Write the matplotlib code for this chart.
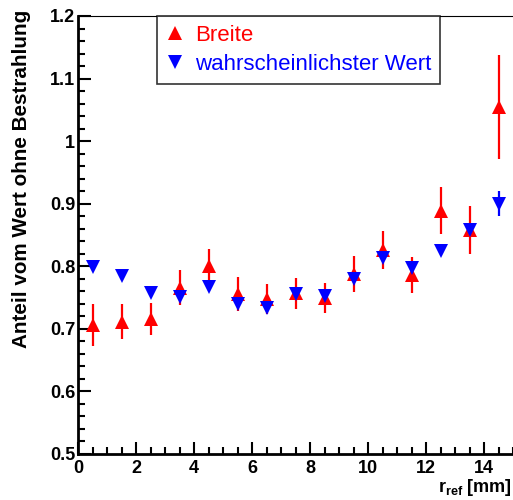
import matplotlib
matplotlib.use("Agg")
import matplotlib.pyplot as plt
from matplotlib.lines import Line2D
from matplotlib.ticker import MultipleLocator

plt.rcParams["font.family"] = ["Liberation Sans", "DejaVu Sans"]
plt.rcParams["mathtext.fontset"] = "custom"
plt.rcParams["mathtext.rm"] = "Liberation Sans:bold"
plt.rcParams["mathtext.bf"] = "Liberation Sans:bold"

# radius bins [mm]
r_ref = [0.5, 1.5, 2.5, 3.5, 4.5, 5.5, 6.5, 7.5, 8.5, 9.5, 10.5, 11.5, 12.5, 13.5, 14.5]

# "Breite" ratio and errors
breite = [0.706, 0.711, 0.716, 0.766, 0.800, 0.756, 0.748, 0.757, 0.749, 0.788,
          0.826, 0.786, 0.889, 0.858, 1.054]
breite_err = [0.033, 0.028, 0.026, 0.028, 0.027, 0.027, 0.024, 0.025, 0.024, 0.029,
              0.031, 0.029, 0.037, 0.039, 0.083]

# most probable value ratio and errors
mpv = [0.799, 0.784, 0.757, 0.751, 0.767, 0.740, 0.734, 0.756, 0.753, 0.780,
       0.813, 0.798, 0.824, 0.858, 0.900]
mpv_err = [0.004, 0.004, 0.004, 0.004, 0.004, 0.004, 0.004, 0.004, 0.004, 0.004,
           0.004, 0.004, 0.004, 0.005, 0.020]

RED = "#ff0000"
BLUE = "#0000ff"

fig = plt.figure(figsize=(5.13, 5.0), dpi=100)
ax = fig.add_axes([78 / 513, 1 - 454 / 500, 1 - 78 / 513, 438 / 500])

ax.errorbar(r_ref, breite, yerr=breite_err, fmt="^", color=RED, ms=10,
            mew=0, elinewidth=1.6, capsize=1.5, capthick=1.6, zorder=3)
ax.errorbar(r_ref, mpv, yerr=mpv_err, fmt="v", color=BLUE, ms=10,
            mew=0, elinewidth=1.6, capsize=1.5, capthick=1.6, zorder=4)

ax.set_xlim(0, 15)
ax.set_ylim(0.5, 1.2)

ax.xaxis.set_major_locator(MultipleLocator(2))
ax.xaxis.set_minor_locator(MultipleLocator(0.5))
ax.yaxis.set_major_locator(MultipleLocator(0.1))
ax.yaxis.set_minor_locator(MultipleLocator(0.02))

ax.tick_params(which="both", direction="in", top=False, right=False, width=1.5)
ax.tick_params(which="major", length=9, labelsize=13)
ax.tick_params(which="minor", length=5)
ax.tick_params(axis="y", pad=2)
ax.tick_params(axis="x", pad=4)

def fmt_y(v, pos):
    s = f"{v:.1f}"
    return "1" if s == "1.0" else s

ax.yaxis.set_major_formatter(plt.FuncFormatter(fmt_y))
for lab in ax.get_xticklabels() + ax.get_yticklabels():
    lab.set_fontweight("bold")

ax.spines["left"].set_linewidth(2)
ax.spines["bottom"].set_linewidth(2)
ax.spines["top"].set_linewidth(0.8)
ax.spines["right"].set_visible(False)

# legend shows markers only (no error bars)
handles = [
    Line2D([], [], ls="none", marker="^", color=RED, ms=10, mew=0),
    Line2D([], [], ls="none", marker="v", color=BLUE, ms=10, mew=0),
]
leg = ax.legend(handles, ["Breite", "wahrscheinlichster Wert"],
                loc="upper left", bbox_to_anchor=(79 / 435, 1.0), fontsize=16,
                frameon=True, fancybox=False, edgecolor="black",
                handlelength=0.8, handletextpad=0.5, borderpad=0.4,
                labelspacing=0.35, borderaxespad=0)
leg.get_frame().set_linewidth(1.2)
for txt, c in zip(leg.get_texts(), [RED, BLUE]):
    txt.set_color(c)

fig.text(22 / 513, 1 - 10 / 500, "Anteil vom Wert ohne Bestrahlung",
         rotation=90, ha="center", va="top", fontsize=14.9, fontweight="bold")
fig.text(512 / 513, 1 - 492 / 500, r"r$_{\mathrm{ref}}$ [mm]",
         ha="right", va="baseline", fontsize=13, fontweight="bold")

fig.savefig("out.png", dpi=100)
